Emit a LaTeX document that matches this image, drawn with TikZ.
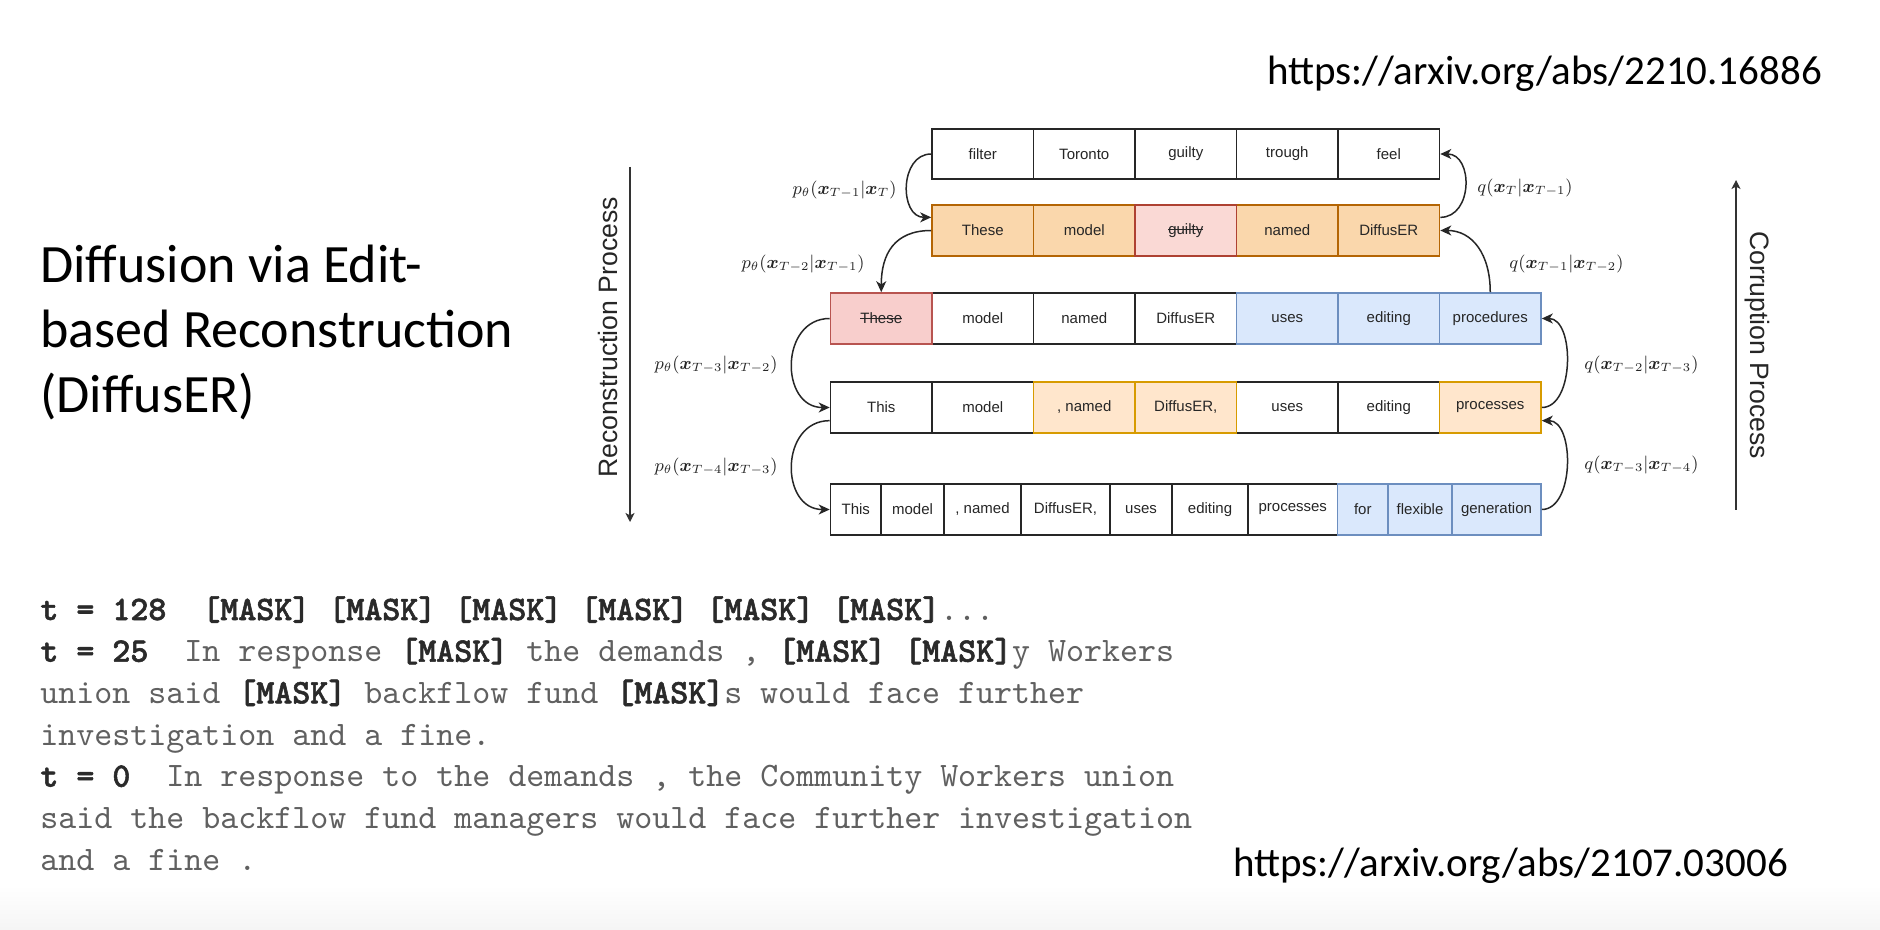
\documentclass[tikz,border=0pt]{standalone}
\usepackage{amsmath}
\usepackage{fontspec}
\setmainfont{Liberation Sans}
\newfontfamily\calfont{Carlito}
\newfontfamily\cmono{lmmono10-regular.otf}[BoldFont=lmmonolt10-bold.otf,BoldFeatures={FakeBold=1.6}]
\usetikzlibrary{arrows.meta,calc}
\definecolor{orF}{HTML}{FAD7AC}\definecolor{orD}{HTML}{B46504}
\definecolor{rdF}{HTML}{F8CECC}\definecolor{rdD}{HTML}{B85450}
\definecolor{guF}{HTML}{FAD9D5}\definecolor{guD}{HTML}{AE4132}
\definecolor{blF}{HTML}{DAE8FC}\definecolor{blD}{HTML}{6C8EBF}
\definecolor{loF}{HTML}{FFE6CC}\definecolor{loD}{HTML}{D79B00}
\definecolor{mgray}{HTML}{606060}\definecolor{mbold}{HTML}{2A2A2A}
\newcommand\strk[1]{\setbox0\hbox{#1}\rlap{\copy0}\rule[0.3em]{\wd0}{0.6pt}}
\newcommand\bx{\boldsymbol{x}}
\newcommand\mk[1]{{\color{mbold}\bfseries #1}}
\newcommand\mycell[7]{\node[cellbase,#6,minimum width={(#3-#2)*0.5pt},minimum height={(#5-#4)*0.5pt}] (#1) at ({(#2+#3)/2},{(#4+#5)/2}) {#7};}
\tikzset{
  cellbase/.style={draw,line width=0.8pt,inner sep=0pt,text=black!85,font=\fontsize{7.5}{9}\selectfont},
  wcell/.style={fill=white,draw=black!85},
  ocell/.style={fill=orF,draw=orD},
  rcell/.style={fill=rdF,draw=rdD},
  gcell/.style={fill=guF,draw=guD},
  bcell/.style={fill=blF,draw=blD},
  lcell/.style={fill=loF,draw=loD},
  conn/.style={line width=0.75pt,black!85,-{Stealth[length=5.5pt,width=5pt,inset=1.6pt]}},
  proc/.style={line width=0.65pt,black!80,-{Stealth[length=4.5pt,width=4.5pt,inset=1.2pt]}},
  mlab/.style={inner sep=0pt,text=black!85,font=\fontsize{9}{11}\selectfont},
  plab/.style={inner sep=0pt,text=black!85,font=\fontsize{13.3}{16}\selectfont},
  ttl/.style={inner sep=0pt,anchor=base west,font=\calfont\fontsize{27}{32}\selectfont},
  urltext/.style={inner sep=0pt,anchor=base west,font=\calfont\fontsize{20.5}{24}\selectfont},
  monoline/.style={inner sep=0pt,anchor=base west,text=mgray,font=\cmono\fontsize{17.14}{20}\selectfont}
}
\begin{document}
\begin{tikzpicture}[x=0.5pt,y=-0.5pt]
\useasboundingbox (0,0) rectangle (1880,930);
\fill[white] (0,0) rectangle (1880,930);
\shade[top color=white,bottom color=black!4] (0,885) rectangle (1880,930);

% title
\node[ttl] (t1) at (40,283) {Diffusion via Edit-};
\node[ttl] (t2) at (40,348) {based Reconstruction};
\node[ttl] (t3) at (40,413) {(DiffusER)};

% urls
\node[urltext] (u1) at (1267,85) {https://arxiv.org/abs/2210.16886};
\node[urltext] (u2) at (1233,876) {https://arxiv.org/abs/2107.03006};

% row 1
\mycell{a1}{932}{1033.5}{129}{179}{wcell}{filter}
\mycell{a2}{1033.5}{1135}{129}{179}{wcell}{Toronto}
\mycell{a3}{1135}{1236.5}{129}{179}{wcell}{guilty}
\mycell{a4}{1236.5}{1338}{129}{179}{wcell}{trough}
\mycell{a5}{1338}{1439.5}{129}{179}{wcell}{feel}
% row 2
\mycell{b1}{932}{1033.5}{205}{256}{ocell}{These}
\mycell{b2}{1033.5}{1135}{205}{256}{ocell}{model}
\mycell{b4}{1236.5}{1338}{205}{256}{ocell}{named}
\mycell{b5}{1338}{1439.5}{205}{256}{ocell}{DiffusER}
\mycell{b3}{1135}{1236.5}{205}{256}{gcell}{\strk{guilty}}
% row 3
\mycell{c2}{932}{1033.5}{293}{344}{wcell}{model}
\mycell{c3}{1033.5}{1135}{293}{344}{wcell}{named}
\mycell{c4}{1135}{1236.5}{293}{344}{wcell}{DiffusER}
\mycell{c5}{1236.5}{1338}{293}{344}{bcell}{uses}
\mycell{c6}{1338}{1439.5}{293}{344}{bcell}{editing}
\mycell{c7}{1439.5}{1541}{293}{344}{bcell}{procedures}
\mycell{c1}{830.5}{932}{293}{344}{rcell}{\strk{These}}
% row 4
\mycell{d1}{830.5}{932}{382}{433}{wcell}{This}
\mycell{d2}{932}{1033.5}{382}{433}{wcell}{model}
\mycell{d5}{1236.5}{1338}{382}{433}{wcell}{uses}
\mycell{d6}{1338}{1439.5}{382}{433}{wcell}{editing}
\mycell{d3}{1033.5}{1135}{382}{433}{lcell}{, named}
\mycell{d4}{1135}{1236.5}{382}{433}{lcell}{DiffusER,}
\mycell{d7}{1439.5}{1541}{382}{433}{lcell}{processes}
% row 5
\mycell{e1}{830.5}{881}{484}{535}{wcell}{This}
\mycell{e2}{881}{944}{484}{535}{wcell}{model}
\mycell{e3}{944}{1021}{484}{535}{wcell}{, named}
\mycell{e4}{1021}{1110}{484}{535}{wcell}{DiffusER,}
\mycell{e5}{1110}{1172}{484}{535}{wcell}{uses}
\mycell{e6}{1172}{1248}{484}{535}{wcell}{editing}
\mycell{e7}{1248}{1337.5}{484}{535}{wcell}{processes}
\mycell{e8}{1337.5}{1388}{484}{535}{bcell}{for}
\mycell{e9}{1388}{1452}{484}{535}{bcell}{flexible}
\mycell{e10}{1452}{1541}{484}{535}{bcell}{generation}

% reconstruction connectors
\draw[conn] (a1.west) .. controls +(-32,0) and +(-32,0) .. ($(b1.north west)!0.25!(b1.south west)$);
\draw[conn] (b1.west) .. controls +(-37,0) and +(0,-38) .. (c1.north);
\draw[conn] (c1.west) .. controls +(-50,0) and +(-50,0) .. (d1.west);
\draw[conn] ($(d1.north west)!0.75!(d1.south west)$) .. controls +(-50,0) and +(-50,0) .. (e1.west);
% corruption connectors
\draw[conn] ($(b5.north east)!0.25!(b5.south east)$) .. controls +(33,0) and +(33,0) .. (a5.east);
\draw[conn] (c7.north) .. controls +(0,-38) and +(32,0) .. (b5.east);
\draw[conn] (d7.east) .. controls +(33,0) and +(33,0) .. (c7.east);
\draw[conn] (e10.east) .. controls +(33,0) and +(33,0) .. ($(d7.north east)!0.75!(d7.south east)$);

% labels
\node[mlab,anchor=east] (lp1) at (897,190) {$p_\theta(\bx_{T-1}|\bx_T)$};
\node[mlab,anchor=east] (lp2) at (865,264) {$p_\theta(\bx_{T-2}|\bx_{T-1})$};
\node[mlab,anchor=east] (lp3) at (778,365) {$p_\theta(\bx_{T-3}|\bx_{T-2})$};
\node[mlab,anchor=east] (lp4) at (778,467) {$p_\theta(\bx_{T-4}|\bx_{T-3})$};
\node[mlab,anchor=west] (lq1) at (1477,188) {$q(\bx_{T}|\bx_{T-1})$};
\node[mlab,anchor=west] (lq2) at (1509,264) {$q(\bx_{T-1}|\bx_{T-2})$};
\node[mlab,anchor=west] (lq3) at (1584,365) {$q(\bx_{T-2}|\bx_{T-3})$};
\node[mlab,anchor=west] (lq4) at (1584,465) {$q(\bx_{T-3}|\bx_{T-4})$};

% process arrows
\coordinate (rtop) at (630,167);
\coordinate (rbot) at (630,522);
\draw[proc] (rtop) -- (rbot);
\node[plab,rotate=90] (rlab) at (608,337.5) {Reconstruction Process};
\coordinate (cbot) at (1736,510);
\coordinate (ctop) at (1736,180);
\draw[proc] (cbot) -- (ctop);
\node[plab,rotate=-90] (clab) at (1757,345) {Corruption Process};

% mono text
\node[monoline] (m1) at (40,620) {\mk{t = 128}\ \ \mk{[MASK] [MASK] [MASK] [MASK] [MASK] [MASK]}...};
\node[monoline] (m2) at (40,661.7) {\mk{t = 25}\ \ In response \mk{[MASK]} the demands , \mk{[MASK] [MASK]}y Workers};
\node[monoline] (m3) at (40,703.3) {union said \mk{[MASK]} backflow fund \mk{[MASK]}s would face further};
\node[monoline] (m4) at (40,745) {investigation and a fine.};
\node[monoline] (m5) at (40,786.7) {\mk{t = 0}\ \ In response to the demands , the Community Workers union};
\node[monoline] (m6) at (40,828.3) {said the backflow fund managers would face further investigation};
\node[monoline] (m7) at (40,870) {and a fine .};
\end{tikzpicture}
\end{document}
